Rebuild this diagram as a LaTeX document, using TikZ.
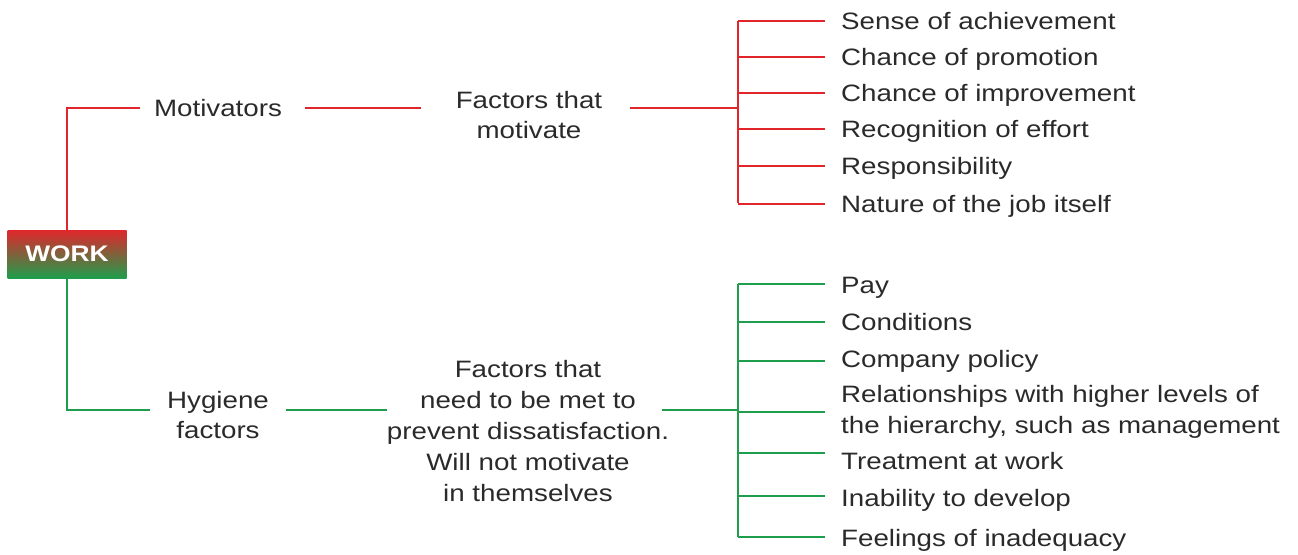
\documentclass[tikz,border=0pt]{standalone}
\usepackage{fontspec}
\setmainfont{Liberation Sans}[FakeStretch=1.17]
\definecolor{wred}{HTML}{E0262B}
\definecolor{wgreen}{HTML}{1E9E4C}
\definecolor{txt}{HTML}{2A2A2A}
\begin{document}
\begin{tikzpicture}[x=1pt,y=-1pt,
  conn/.style={line width=2.2pt},
  rl/.style={conn, draw=wred},
  gl/.style={conn, draw=wgreen},
  lbl/.style={inner sep=0pt, text=txt, font=\fontsize{23.7}{30.8}\selectfont, align=center},
  one/.style={text height=20pt, text depth=4pt},
  leaf/.style={lbl, one, anchor=west, align=left},
  workbox/.style={minimum width=119pt, minimum height=48pt, inner sep=0pt,
    top color=wred, bottom color=wgreen, text=white,
    font=\fontsize{22.5}{26}\selectfont\bfseries}]
\useasboundingbox (0,0) rectangle (1298,554);

% root
\node[workbox] (work) at (67,254) {WORK};

% motivators branch
\node[lbl, one] (motiv) at (218,108) {Motivators};
\node[lbl] (fm) at (529,115) {Factors that\\motivate};
\coordinate (rtop) at (738,21);
\coordinate (rbot) at (738,203);
\coordinate (rmid) at (738,108);

\node[leaf] (r1) at (841,21)  {Sense of achievement};
\node[leaf] (r2) at (841,57)  {Chance of promotion};
\node[leaf] (r3) at (841,93)  {Chance of improvement};
\node[leaf] (r4) at (841,129) {Recognition of effort};
\node[leaf] (r5) at (841,166) {Responsibility};
\node[leaf] (r6) at (841,204) {Nature of the job itself};

\draw[rl] (work.north) |- ([xshift=-14pt]motiv.west);
\draw[rl] ([xshift=23pt]motiv.east) -- ([xshift=-35pt]motiv.east -| fm.west);
\draw[rl] ([xshift=28pt]fm.east |- rmid) -- (rmid);
\draw[rl] (rtop) -- (rbot);
\foreach \n in {r1,r2,r3,r4,r5,r6}
  \draw[rl] (rtop |- \n.west) -- ([xshift=-16pt]\n.west);

% hygiene branch
\node[lbl] (hyg) at (218,415) {Hygiene\\factors};
\node[lbl] (fn) at (528,431) {Factors that\\need to be met to\\prevent dissatisfaction.\\Will not motivate\\in themselves};
\coordinate (hline) at (218,410);
\coordinate (gtop) at (738,284);
\coordinate (gbot) at (738,537);
\coordinate (gmid) at (738,410);

\node[leaf] (g1) at (841,285) {Pay};
\node[leaf] (g2) at (841,322) {Conditions};
\node[leaf] (g3) at (841,359) {Company policy};
\node[lbl, anchor=west, align=left] (g4) at (841,412) {Relationships with higher levels of\\the hierarchy, such as management};
\node[leaf] (g5) at (841,461) {Treatment at work};
\node[leaf] (g6) at (841,498) {Inability to develop};
\node[leaf] (g7) at (841,538) {Feelings of inadequacy};

\draw[gl] (work.south) |- ([xshift=-17pt]hyg.west |- hline);
\draw[gl] ([xshift=17pt]hyg.east |- hline) -- (fn.west |- hline);
\draw[gl] ([xshift=-7pt]fn.east |- gmid) -- (gmid);
\draw[gl] (gtop) -- (gbot);
\foreach \n/\dy in {g1/1,g2/0,g3/-2,g4/0,g5/8,g6/2,g7/1}
  \draw[gl] ([yshift=\dy pt]gtop |- \n.west) -- ([yshift=\dy pt, xshift=-16pt]\n.west);
\end{tikzpicture}
\end{document}
